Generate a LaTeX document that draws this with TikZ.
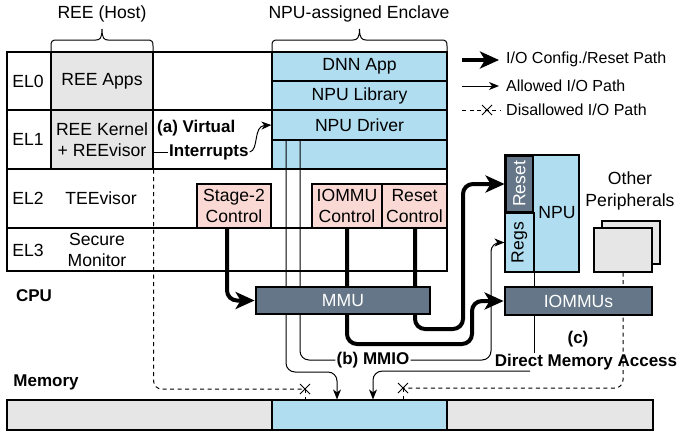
\documentclass[tikz,border=0pt]{standalone}
\usepackage{fontspec}
\usepackage{graphicx}
\setmainfont{Liberation Sans}
\usetikzlibrary{arrows.meta,shapes.misc}
\definecolor{encblue}{HTML}{B1DDF0}
\definecolor{hostgray}{HTML}{E6E6E6}
\definecolor{ctlpink}{HTML}{FAD9D5}
\definecolor{unitslate}{HTML}{647687}
\pgfdeclarelayer{back}
\pgfdeclarelayer{wires}
\pgfsetlayers{back,wires,main}
\tikzset{
  base/.style={font=\fontsize{17.6}{21.5}\selectfont},
  cell/.style={draw, line width=1.2pt, inner sep=0pt, align=center},
  ctl/.style={cell, fill=ctlpink},
  unit/.style={draw, line width=2.8pt, fill=unitslate, text=white, inner sep=0pt},
  lbl/.style={inner sep=1pt, align=center},
  bold/.style={lbl, font=\fontsize{17}{21.5}\selectfont\bfseries},
  legendtext/.style={inner sep=1pt, anchor=west, font=\fontsize{16}{19}\selectfont},
  heavy/.style={line width=4pt, rounded corners=10pt, -{Stealth[length=19pt,width=17pt,inset=5pt]}},
  light/.style={line width=1pt, rounded corners=9pt, -{Stealth[length=10pt,width=8pt,inset=3pt]}},
  plain/.style={line width=1pt, rounded corners=9pt},
  blocked/.style={line width=1pt, dash pattern=on 4pt off 3.5pt, rounded corners=8pt},
  xmark/.style={draw, cross out, line width=1pt, minimum size=9pt, inner sep=0pt},
  frame/.style={line width=1.2pt},
}
\begin{document}
\begin{tikzpicture}[x=1pt, y=-1pt, base]
\useasboundingbox (0,0) rectangle (680,432);

% ---------- exception-level table ----------
\begin{pgfonlayer}{back}
  \node[cell, fill=hostgray, minimum width=102pt, minimum height=58pt] (reeapps) at (102,81) {REE Apps};
  \node[cell, fill=hostgray, minimum width=102pt, minimum height=59pt] (reekernel) at (102,139.5) {REE Kernel\\+ REEvisor};
  \node[cell, fill=encblue, minimum width=175pt, minimum height=29pt] (dnn) at (359.5,66.5) {DNN App};
  \node[cell, fill=encblue, minimum width=175pt, minimum height=29pt] (npulib) at (359.5,95.5) {NPU Library};
  \node[cell, fill=encblue, minimum width=175pt, minimum height=30pt] (npudrv) at (359.5,125) {NPU Driver};
  \node[cell, fill=encblue, minimum width=175pt, minimum height=29pt] (encrest) at (359.5,154.5) {};
  \draw[frame] (7,52) rectangle (447,271);
  \draw[frame] (7,110) -- (447,110) (7,169) -- (447,169) (7,228) -- (447,228);
  % memory bar
  \node[cell, fill=hostgray, minimum width=265pt, minimum height=30pt] (memhost) at (139.5,415) {};
  \node[cell, fill=encblue, minimum width=175pt, minimum height=30pt] (memenc) at (359.5,415) {};
  \node[cell, fill=hostgray, minimum width=206pt, minimum height=30pt] (memrest) at (550,415) {};
\end{pgfonlayer}

% row labels
\node[lbl] (el0) at (28,81) {EL0};
\node[lbl] (el1) at (28,139) {EL1};
\node[lbl] (el2) at (28,198) {EL2};
\node[lbl] (el3) at (28,250) {EL3};
\node[lbl] (teevisor) at (101,198) {TEEvisor};
\node[lbl] (secmon) at (97,250) {Secure\\Monitor};
\node[bold] (cpu) at (34,296) {CPU};
\node[bold] (memlbl) at (46,382) {Memory};

% column titles and braces
\node[lbl] (reetitle) at (102,14) {REE (Host)};
\node[lbl] (enctitle) at (359,14) {NPU-assigned Enclave};
\draw[line width=1pt] (51,52) -- (51,46) .. controls (51,41) and (52,40) .. (57,40) -- (96,40)
  .. controls (100,40) and (102,38) .. (102,29) .. controls (102,38) and (104,40) .. (108,40)
  -- (147,40) .. controls (152,40) and (153,41) .. (153,46) -- (153,52);
\draw[line width=1pt] (272,52) -- (272,46) .. controls (272,41) and (273,40) .. (278,40) -- (353,40)
  .. controls (357,40) and (359.5,38) .. (359.5,29) .. controls (359.5,38) and (362,40) .. (366,40)
  -- (441,40) .. controls (446,40) and (447,41) .. (447,46) -- (447,52);

% control blocks in TEEvisor
\node[ctl, minimum width=74pt, minimum height=44pt] (stage2) at (234,206) {Stage-2\\Control};
\node[ctl, minimum width=70pt, minimum height=44pt] (iommuctl) at (347,206) {IOMMU\\Control};
\node[ctl, minimum width=65pt, minimum height=44pt] (resetctl) at (414.5,206) {Reset\\Control};

% translation units
\node[unit, minimum width=174pt, minimum height=27pt] (mmu) at (343,300.5) {MMU};
\node[unit, minimum width=147pt, minimum height=28pt] (iommus) at (578.5,301) {IOMMUs};

% NPU device
\node[cell, fill=encblue, minimum width=74pt, minimum height=117pt] (npu) at (542,213.5) {};
\node[lbl] (npulbl) at (557,213) {NPU};
\node[cell, fill=encblue, minimum width=29pt, minimum height=59pt] (regs) at (519.5,242.5) {\rotatebox{90}{Regs}};
\node[unit, minimum width=27pt, minimum height=56pt] (reset) at (519.5,184) {\rotatebox{90}{Reset}};

% other peripherals
\node[cell, fill=hostgray, minimum width=58pt, minimum height=43pt] (periphback) at (631,242.5) {};
\node[cell, fill=hostgray, minimum width=58pt, minimum height=44pt] (periph) at (623,250) {};
\node[lbl] (periphlbl) at (630,191) {Other\\Peripherals};

% path labels
\node[bold, anchor=west] (va) at (156,128) {(a) Virtual};
\node[bold, anchor=west] (vb) at (168,152) {Interrupts};
\node[bold] (mmio) at (373,360) {(b) MMIO};
\node[bold] (dmac) at (578,339) {(c)};
\node[bold] (dma) at (586,362) {Direct Memory Access};

% crossing points of disallowed paths
\coordinate (xl) at (305,389);
\coordinate (xr) at (403,388);
\coordinate (tapA) at (337,372);

\begin{pgfonlayer}{wires}
  % configuration / reset paths
  \draw[heavy] (stage2.south -| 227,0) |- (mmu.west);
  \draw[heavy] (iommuctl.south) -- (347,344) -- (472,344) -- (472,301) -- (iommus.west);
  \draw[heavy] (resetctl.south -| 415,0) -- (415,329) -- (463,329) -- (463,184) -- (reset.west);
  % driver MMIO paths
  \draw[light] (encrest.north -| 286,0) |- (tapA) -- (tapA |- memenc.north);
  \draw[plain] (encrest.north -| 300,0) |- (mmio.west);
  \draw[light] (mmio.east) -- (mmio.east -| 491,0) -- (regs.west -| 491,0) -- (regs.west);
  % device DMA path
  \draw[line width=1pt] (regs.south east) -- (regs.south east |- dma.north);
  \draw[light] (dma.south -| 530,0) -| (memenc.north -| 373,0);
  % disallowed paths
  \draw[blocked] (reekernel.south east) |- (xl);
  \draw[blocked, rounded corners=0pt] (xl) -- (xl |- memenc.north);
  \draw[blocked] (periph.south) |- (xr);
  \draw[blocked, rounded corners=0pt] (xr) -- (xr |- memenc.north);
  % virtual interrupt path
  \draw[line width=1pt] (reekernel.east |- vb.west) -- (vb.west);
  \draw[line width=1pt, -{Stealth[length=10pt,width=8pt,inset=3pt]}] (vb.east) .. controls (259,150) and (253,126) .. (npudrv.west);
\end{pgfonlayer}
\node[xmark] (xlm) at (xl) {};
\node[xmark] (xrm) at (xr) {};

% legend
\coordinate (lgA1) at (462,60);  \coordinate (lgA2) at (499,60);
\coordinate (lgB1) at (462,86);  \coordinate (lgB2) at (499,86);
\coordinate (lgC1) at (462,110); \coordinate (lgC2) at (500,110);
\draw[heavy] (lgA1) -- (lgA2);
\draw[light] (lgB1) -- (lgB2);
\draw[blocked] (lgC1) -- (lgC2);
\node[xmark] (lgX) at (487,110) {};
\node[legendtext] (lgT1) at (505,59) {I/O Config./Reset Path};
\node[legendtext] (lgT2) at (505,86) {Allowed I/O Path};
\node[legendtext] (lgT3) at (505,110) {Disallowed I/O Path};
\end{tikzpicture}
\end{document}
